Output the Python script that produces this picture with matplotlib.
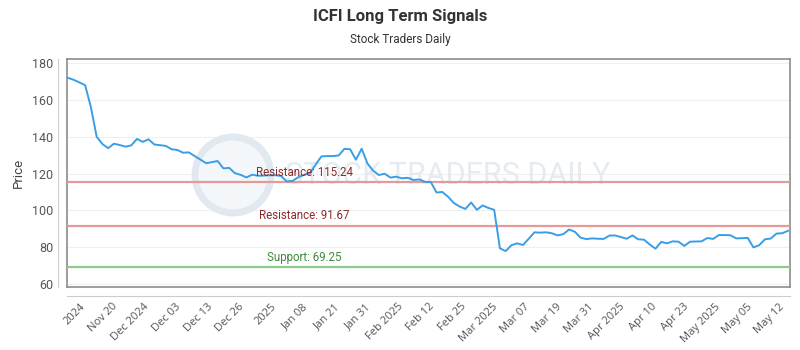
"""
ICFI long term signals chart, redrawn with matplotlib.
"""

import numpy as np
import matplotlib
matplotlib.use("Agg")
import matplotlib.pyplot as plt
from matplotlib.lines import Line2D
from matplotlib.patches import Circle

# Closing prices (one value per point).
prices = [
    172.0, 170.9, 169.5, 168.0, 156.0, 140.0, 136.0, 133.8, 136.2, 135.5,
    134.6, 135.3, 138.8, 137.2, 138.6, 135.8, 135.4, 135.0, 133.2, 132.8,
    131.3, 131.5, 129.5, 127.6, 125.6, 126.2, 126.8, 122.8, 123.1, 120.2,
    119.3, 117.9, 119.4, 118.8, 118.9, 119.1, 119.1, 118.7, 115.7, 116.0,
    118.0, 119.3, 120.1, 124.8, 129.3, 129.5, 129.5, 129.8, 133.4, 133.2,
    127.5, 133.5, 125.5, 121.5, 119.2, 119.9, 117.8, 118.3, 117.4, 117.7,
    116.5, 116.8, 115.5, 115.4, 109.7, 110.0, 107.4, 104.0, 102.1, 100.8,
    104.3, 100.3, 102.7, 101.3, 100.3, 79.4, 77.9, 81.1, 82.1, 81.2,
    84.6, 88.1, 87.9, 88.1, 87.6, 86.4, 87.1, 89.6, 88.4, 85.2,
    84.4, 84.8, 84.6, 84.5, 86.3, 86.4, 85.5, 84.6, 86.4, 84.3,
    84.1, 81.5, 79.2, 82.9, 82.1, 83.2, 83.0, 80.7, 83.0, 83.1,
    83.2, 85.0, 84.5, 86.6, 86.6, 86.5, 84.8, 84.9, 85.1, 79.9,
    81.1, 84.3, 84.7, 87.4, 87.6, 88.9,
]

tick_labels = [
    "2024", "Nov 20", "Dec 2024", "Dec 03", "Dec 13", "Dec 26", "2025",
    "Jan 08", "Jan 21", "Jan 31", "Feb 2025", "Feb 12", "Feb 25",
    "Mar 2025", "Mar 07", "Mar 19", "Mar 31", "Apr 2025", "Apr 10",
    "Apr 23", "May 2025", "May 05", "May 12",
]

levels = [115.24, 91.67, 69.25]
level_names = ["Resistance", "Resistance", "Support"]

line_colors = {"Resistance": "#e59a9a", "Support": "#8fcb8f"}
text_colors = {"Resistance": "#8b2b2b", "Support": "#3f8a3f"}

plt.rcParams["font.family"] = ["Roboto", "DejaVu Sans"]

fig = plt.figure(figsize=(8, 3.5), dpi=100)
ax = fig.add_axes([67 / 800, 63 / 350, 723 / 800, 228 / 350])

x = np.arange(len(prices))
ax.plot(x, prices, color="#3a9ee6", lw=1.4, zorder=4)

# support / resistance lines with their labels
for lvl, name in zip(levels, level_names):
    ax.axhline(lvl, color=line_colors[name], lw=1.6, zorder=3)
    ax.text(41, lvl + 1.8, f"{name}: {lvl:.2f}", color=text_colors[name],
            fontsize=8.3, ha="center", va="bottom", zorder=5)

ax.set_xlim(-0.15, len(prices) - 1 + 0.35)
ax.set_ylim(58.4, 182.2)
ax.set_yticks(range(60, 181, 20))
ax.grid(axis="y", color="#efefef", lw=0.8)
ax.set_axisbelow(True)

ticks = np.linspace(2.8, 124.0, len(tick_labels))
ax.set_xticks(ticks)
ax.set_xticklabels(tick_labels, rotation=45, ha="right", va="center",
                   rotation_mode="anchor", fontsize=8, color="#555555",
                   family=["Open Sans", "DejaVu Sans"])
ax.tick_params(axis="x", length=0, pad=13)
ax.tick_params(axis="y", length=0, pad=10, labelsize=9, labelcolor="#555555")

for sp in ax.spines.values():
    sp.set_color("#8c8c8c")
    sp.set_linewidth(1.2)

ax.set_ylabel("Price", fontsize=9.5, color="#444444", labelpad=5)

# separate axis lines, drawn a little away from the plot box
fig.add_artist(Line2D([58 / 800, 58 / 800], [63 / 350, 291 / 350],
                      color="#cccccc", lw=0.8))
fig.add_artist(Line2D([67 / 800, 790 / 800], [54 / 350, 54 / 350],
                      color="#cccccc", lw=0.8))

# faint watermark: round logo plus site name
ax.add_patch(Circle((2.33, 1.75), 0.38, transform=fig.dpi_scale_trans,
                    facecolor="#f4f7fa", edgecolor="#e2e8ef", lw=5,
                    zorder=1))
ax.text(0.527, 0.49, "STOCK TRADERS DAILY", transform=ax.transAxes,
        fontsize=22, color="#e6ebf0", ha="center", va="center",
        zorder=1)

fig.text(0.5, 1 - 16 / 350, "ICFI Long Term Signals", ha="center",
         va="center", fontsize=12, fontweight="bold", color="#333333")
fig.text(0.5, 1 - 40 / 350, "Stock Traders Daily", ha="center",
         va="center", fontsize=8.5, color="#333333")

fig.savefig("out.png", dpi=100)
